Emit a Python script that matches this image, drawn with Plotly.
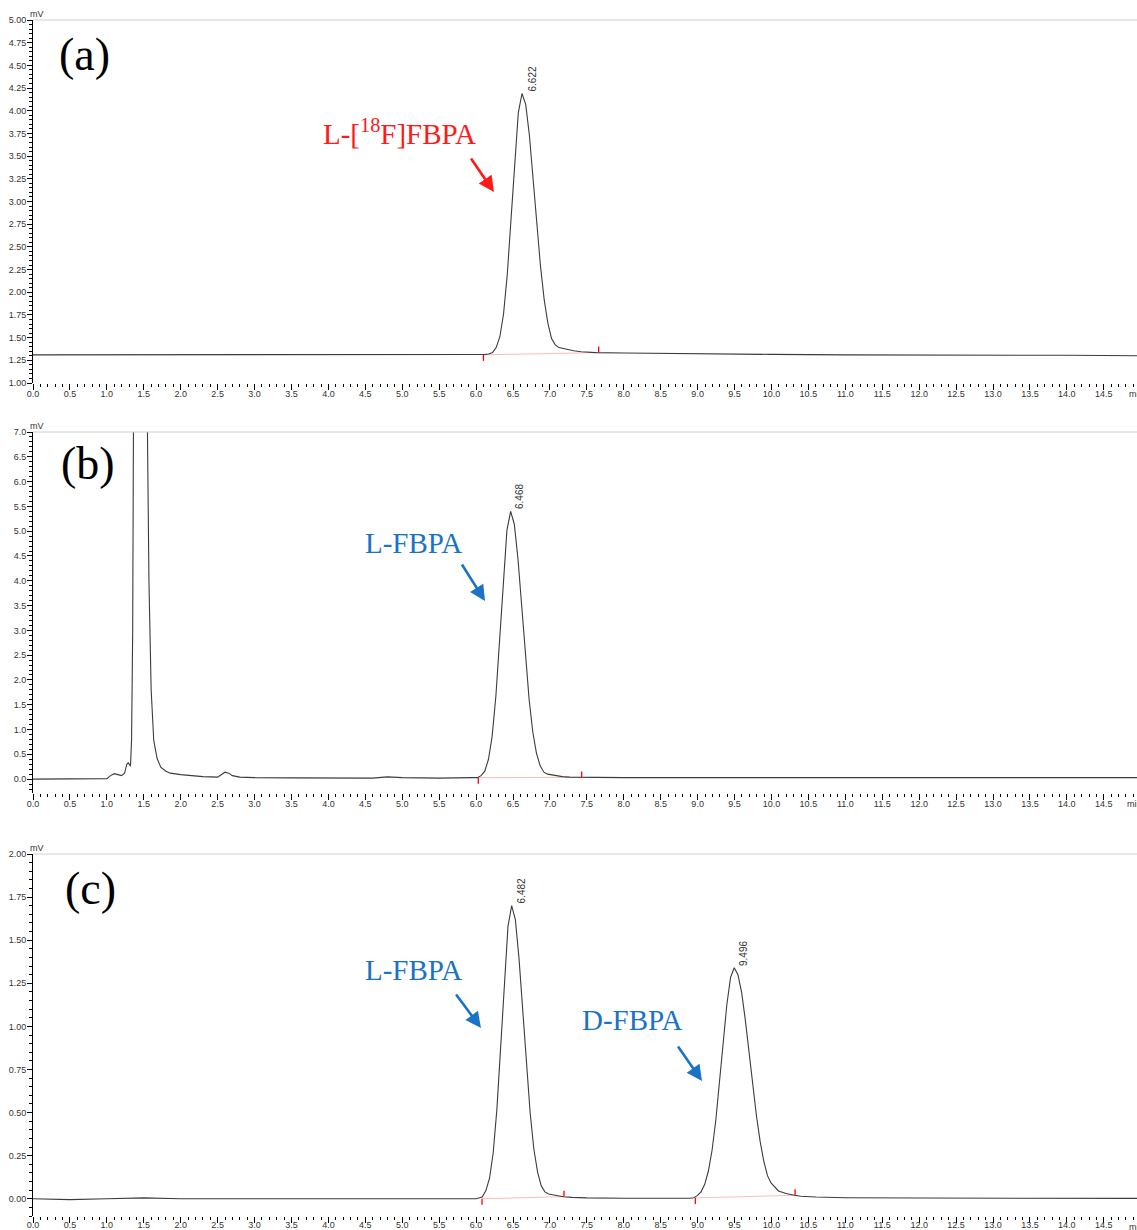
import plotly.graph_objects as go

# ---------------- data ----------------
# Panel (a): L-[18F]FBPA radio trace, mV vs min
ta = [0.0, 0.5, 1.0, 1.5, 2.0, 2.5, 3.0, 3.5, 4.0, 4.5, 5.0, 5.5, 5.8, 6.0, 6.122, 6.172,
      6.222, 6.272, 6.322, 6.372, 6.422, 6.472, 6.522, 6.572, 6.622, 6.672, 6.722, 6.772,
      6.822, 6.872, 6.922, 6.972, 7.022, 7.072, 7.122, 7.172, 7.222, 7.272, 7.322, 7.422,
      7.522, 7.622, 8.0, 8.5, 9.0, 10.0, 11.0, 12.0, 13.0, 14.0, 15.0]
va = [1.31, 1.31, 1.31, 1.312, 1.315, 1.312, 1.31, 1.31, 1.31, 1.31, 1.31, 1.31, 1.31, 1.31, 1.315, 1.32,
      1.335, 1.39, 1.51, 1.76, 2.19, 2.79, 3.45, 3.98, 4.19, 4.07, 3.73, 3.26,
      2.75, 2.29, 1.92, 1.66, 1.49, 1.42, 1.39, 1.38, 1.375, 1.365, 1.355, 1.345,
      1.34, 1.335, 1.33, 1.325, 1.32, 1.315, 1.31, 1.31, 1.31, 1.305, 1.30]

# Panel (b): L-FBPA standard, UV trace
tb = [0.0, 0.5, 0.9, 1.0, 1.05, 1.1, 1.15, 1.2, 1.24, 1.27, 1.29, 1.31, 1.32, 1.335, 1.35, 1.36,
      1.38, 1.42, 1.46, 1.50, 1.53, 1.55, 1.57, 1.6, 1.635, 1.68, 1.73, 1.8, 1.86, 2.0, 2.1,
      2.3, 2.5, 2.55, 2.6, 2.65, 2.7, 2.8, 3.0, 3.5, 4.0, 4.6, 4.8, 5.0, 5.5, 5.8, 5.95,
      6.018, 6.068, 6.118, 6.168, 6.218, 6.268, 6.318, 6.368, 6.418, 6.468, 6.518, 6.568,
      6.618, 6.668, 6.718, 6.768, 6.818, 6.868, 6.918, 6.968, 7.068, 7.168, 7.268, 7.42,
      8.0, 9.0, 9.5, 10.0, 11.0, 12.0, 13.0, 14.0, 15.0]
vb = [0.0, 0.0, 0.0, 0.01, 0.07, 0.11, 0.09, 0.07, 0.12, 0.30, 0.33, 0.27, 0.26, 0.8, 3.0, 7.0,
      15.0, 25.0, 24.0, 15.0, 10.0, 7.0, 4.0, 1.8, 0.78, 0.42, 0.24, 0.16, 0.12, 0.09, 0.075,
      0.05, 0.04, 0.09, 0.14, 0.12, 0.07, 0.04, 0.03, 0.025, 0.02, 0.02, 0.045, 0.03, 0.02, 0.035, 0.03,
      0.03, 0.07, 0.16, 0.40, 0.87, 1.67, 2.79, 4.02, 5.02, 5.40, 5.14, 4.43,
      3.49, 2.48, 1.61, 0.95, 0.52, 0.27, 0.14, 0.10, 0.07, 0.05, 0.04, 0.035,
      0.03, 0.03, 0.035, 0.03, 0.03, 0.03, 0.03, 0.03, 0.03]

# Panel (c): racemic mixture L-FBPA / D-FBPA
tc = [0.0, 0.5, 1.0, 1.5, 2.0, 3.0, 4.0, 5.0, 5.5, 6.0, 6.082, 6.132, 6.182, 6.232, 6.282,
      6.332, 6.382, 6.432, 6.482, 6.532, 6.582, 6.632, 6.682, 6.732, 6.782, 6.832, 6.882,
      6.932, 6.982, 7.082, 7.182, 7.3, 7.5, 8.0, 8.5, 8.9, 8.946, 8.996, 9.046, 9.096, 9.146,
      9.196, 9.246, 9.296, 9.346, 9.396, 9.446, 9.496, 9.546, 9.596, 9.646, 9.696, 9.746,
      9.796, 9.846, 9.896, 9.946, 9.996, 10.096, 10.196, 10.296, 10.396, 10.6, 11.0, 12.0,
      13.0, 14.0, 15.0]
vc = [0.0, -0.005, 0.0, 0.005, 0.0, 0.0, 0.0, 0.0, 0.0, 0.0, 0.01, 0.046, 0.119, 0.267, 0.52,
      0.874, 1.265, 1.58, 1.70, 1.62, 1.39, 1.095, 0.78, 0.50, 0.29, 0.156, 0.075,
      0.04, 0.028, 0.018, 0.012, 0.008, 0.005, 0.003, 0.002, 0.003, 0.006, 0.018, 0.04, 0.084, 0.161,
      0.283, 0.454, 0.67, 0.909, 1.127, 1.284, 1.34, 1.30, 1.197, 1.038, 0.851, 0.659,
      0.483, 0.334, 0.219, 0.134, 0.09, 0.045, 0.03, 0.022, 0.015, 0.01, 0.006, 0.004,
      0.003, 0.002, 0.002]

# peak retention times and apex heights (labels)
peaks_a = [(6.622, 4.19)]
peaks_b = [(6.468, 5.40)]
peaks_c = [(6.482, 1.70), (9.496, 1.34)]

# integration start/end markers (time, level)
marks_a = [((6.10, 1.31), (7.66, 1.335))]
marks_b = [((6.03, 0.03), (7.43, 0.035))]
marks_c = [((6.08, 0.0), (7.19, 0.012)), ((8.97, 0.005), (10.32, 0.02))]

W, H = 1137, 1230
XL = 33 / W
SANS = "Liberation Sans, Arial, sans-serif"
SERIF = "Liberation Serif, Times New Roman, serif"

panels = [
    dict(t=ta, v=va, rng=[1.0, 5.0], dt=0.25, mdt=0.05, fmt=".2f", top=20, bot=383,
         peaks=peaks_a, marks=marks_a, minlab=1127, so=-4),
    dict(t=tb, v=vb, rng=[-0.28, 7.0], dt=0.5, mdt=0.1, fmt=".1f", top=432, bot=793,
         peaks=peaks_b, marks=marks_b, minlab=1125, so=-4),
    dict(t=tc, v=vc, rng=[-0.1, 2.0], dt=0.25, mdt=0.05, fmt=".2f", top=854, bot=1216,
         peaks=peaks_c, marks=marks_c, minlab=1127, so=-6),
]

fig = go.Figure()
shapes = []
annotations = []

for i, p in enumerate(panels, start=1):
    xa = "x" if i == 1 else f"x{i}"
    ya = "y" if i == 1 else f"y{i}"
    # integration baselines (faint red)
    for (s, e) in p["marks"]:
        fig.add_trace(go.Scatter(x=[s[0], e[0]], y=[s[1], e[1]], mode="lines",
                                 line=dict(color="rgba(255,60,60,0.35)", width=1),
                                 xaxis=xa, yaxis=ya, showlegend=False, hoverinfo="skip"))
        shapes.append(dict(type="line", xref=xa, yref=ya, x0=s[0], x1=s[0],
                           ysizemode="pixel", yanchor=s[1], y0=0, y1=-6,
                           line=dict(color="red", width=1.3)))
        shapes.append(dict(type="line", xref=xa, yref=ya, x0=e[0], x1=e[0],
                           ysizemode="pixel", yanchor=e[1], y0=0, y1=6,
                           line=dict(color="red", width=1.3)))
    fig.add_trace(go.Scatter(x=p["t"], y=p["v"], mode="lines",
                             line=dict(color="#3c3c3c", width=1.1),
                             xaxis=xa, yaxis=ya, showlegend=False, hoverinfo="skip"))
    d0 = (H - p["bot"]) / H
    d1 = (H - p["top"]) / H
    lay_x = dict(domain=[XL, 1.0], range=[0, 14.95], anchor=ya, dtick=0.5, tick0=0,
                 tickformat=".1f", ticks="outside", ticklen=6, tickcolor="black",
                 tickwidth=1, showline=False, showgrid=False, zeroline=False,
                 automargin=False, ticklabelstandoff=p["so"],
                 tickfont=dict(family=SANS, size=9, color="#333"),
                 minor=dict(dtick=0.1, ticks="outside", ticklen=3, tickcolor="black"))
    lay_y = dict(domain=[d0, d1], range=p["rng"], anchor=xa, dtick=p["dt"], tick0=0,
                 tickformat=p["fmt"], ticks="outside", ticklen=5, tickcolor="black",
                 showline=True, linecolor="black", linewidth=1, showgrid=False,
                 zeroline=False, automargin=False, ticklabelstandoff=-1,
                 tickfont=dict(family=SANS, size=9, color="#333"),
                 minor=dict(dtick=p["mdt"], ticks="outside", ticklen=3, tickcolor="black"))
    fig.update_layout(**{("xaxis" if i == 1 else f"xaxis{i}"): lay_x,
                         ("yaxis" if i == 1 else f"yaxis{i}"): lay_y})
    # top gray border line
    shapes.append(dict(type="line", xref=f"{xa} domain", yref=f"{ya} domain",
                       x0=0, x1=1, y0=1, y1=1, line=dict(color="#d0d0d0", width=1)))
    # mV label
    annotations.append(dict(text="mV", xref="paper", yref="paper", x=28 / W,
                            y=1 - (p["top"] + 1) / H, xanchor="left", yanchor="bottom",
                            showarrow=False, font=dict(family=SANS, size=9, color="#333")))
    # 'min' axis unit (cut by right edge, as in the original export)
    annotations.append(dict(text="min", xref="paper", yref="paper", x=p["minlab"] / W,
                            y=1 - (p["bot"] + 4) / H, xanchor="left", yanchor="top",
                            showarrow=False, font=dict(family=SANS, size=9, color="#333")))
    # peak retention-time labels
    for (rt, h) in p["peaks"]:
        annotations.append(dict(text=f"{rt:.3f}", xref=xa, yref=ya, x=rt, y=h,
                                textangle=-90, xanchor="left", yanchor="bottom",
                                xshift=2, yshift=0, showarrow=False,
                                font=dict(family=SANS, size=10, color="#333")))

# panel letters
for txt, px, py in [("(a)", 84, 55), ("(b)", 88, 463), ("(c)", 90, 888)]:
    annotations.append(dict(text=txt, xref="paper", yref="paper", x=px / W, y=1 - py / H,
                            xanchor="center", yanchor="middle", showarrow=False,
                            font=dict(family=SERIF, size=46, color="black")))

RED = "#ff1a1a"
BLUE = "#1a73c4"
# compound labels
for txt, col, px, py in [("L-[<sup>18</sup>F]FBPA", RED, 399, 132),
                         ("L-FBPA", BLUE, 413, 543),
                         ("L-FBPA", BLUE, 413, 970),
                         ("D-FBPA", BLUE, 632, 1020)]:
    annotations.append(dict(text=txt, xref="paper", yref="paper", x=px / W, y=1 - py / H,
                            xanchor="center", yanchor="middle", showarrow=False,
                            font=dict(family=SERIF, size=29, color=col)))

# arrows (head point, tail offset in px)
for col, hx, hy, ax, ay in [(RED, 494, 192, -24, -35),
                            (BLUE, 485, 601, -24, -38),
                            (BLUE, 481, 1028, -26, -35),
                            (BLUE, 702, 1081, -25, -36)]:
    annotations.append(dict(text="", xref="paper", yref="paper", x=hx / W, y=1 - hy / H,
                            ax=ax, ay=ay, showarrow=True, arrowhead=2, arrowsize=1.2,
                            arrowwidth=2.6, arrowcolor=col))

fig.update_layout(width=W, height=H,
                  margin=dict(l=0, r=0, t=0, b=0, pad=0, autoexpand=False),
                  paper_bgcolor="white", plot_bgcolor="white",
                  shapes=shapes, annotations=annotations, showlegend=False)

fig.write_html("out.html")
